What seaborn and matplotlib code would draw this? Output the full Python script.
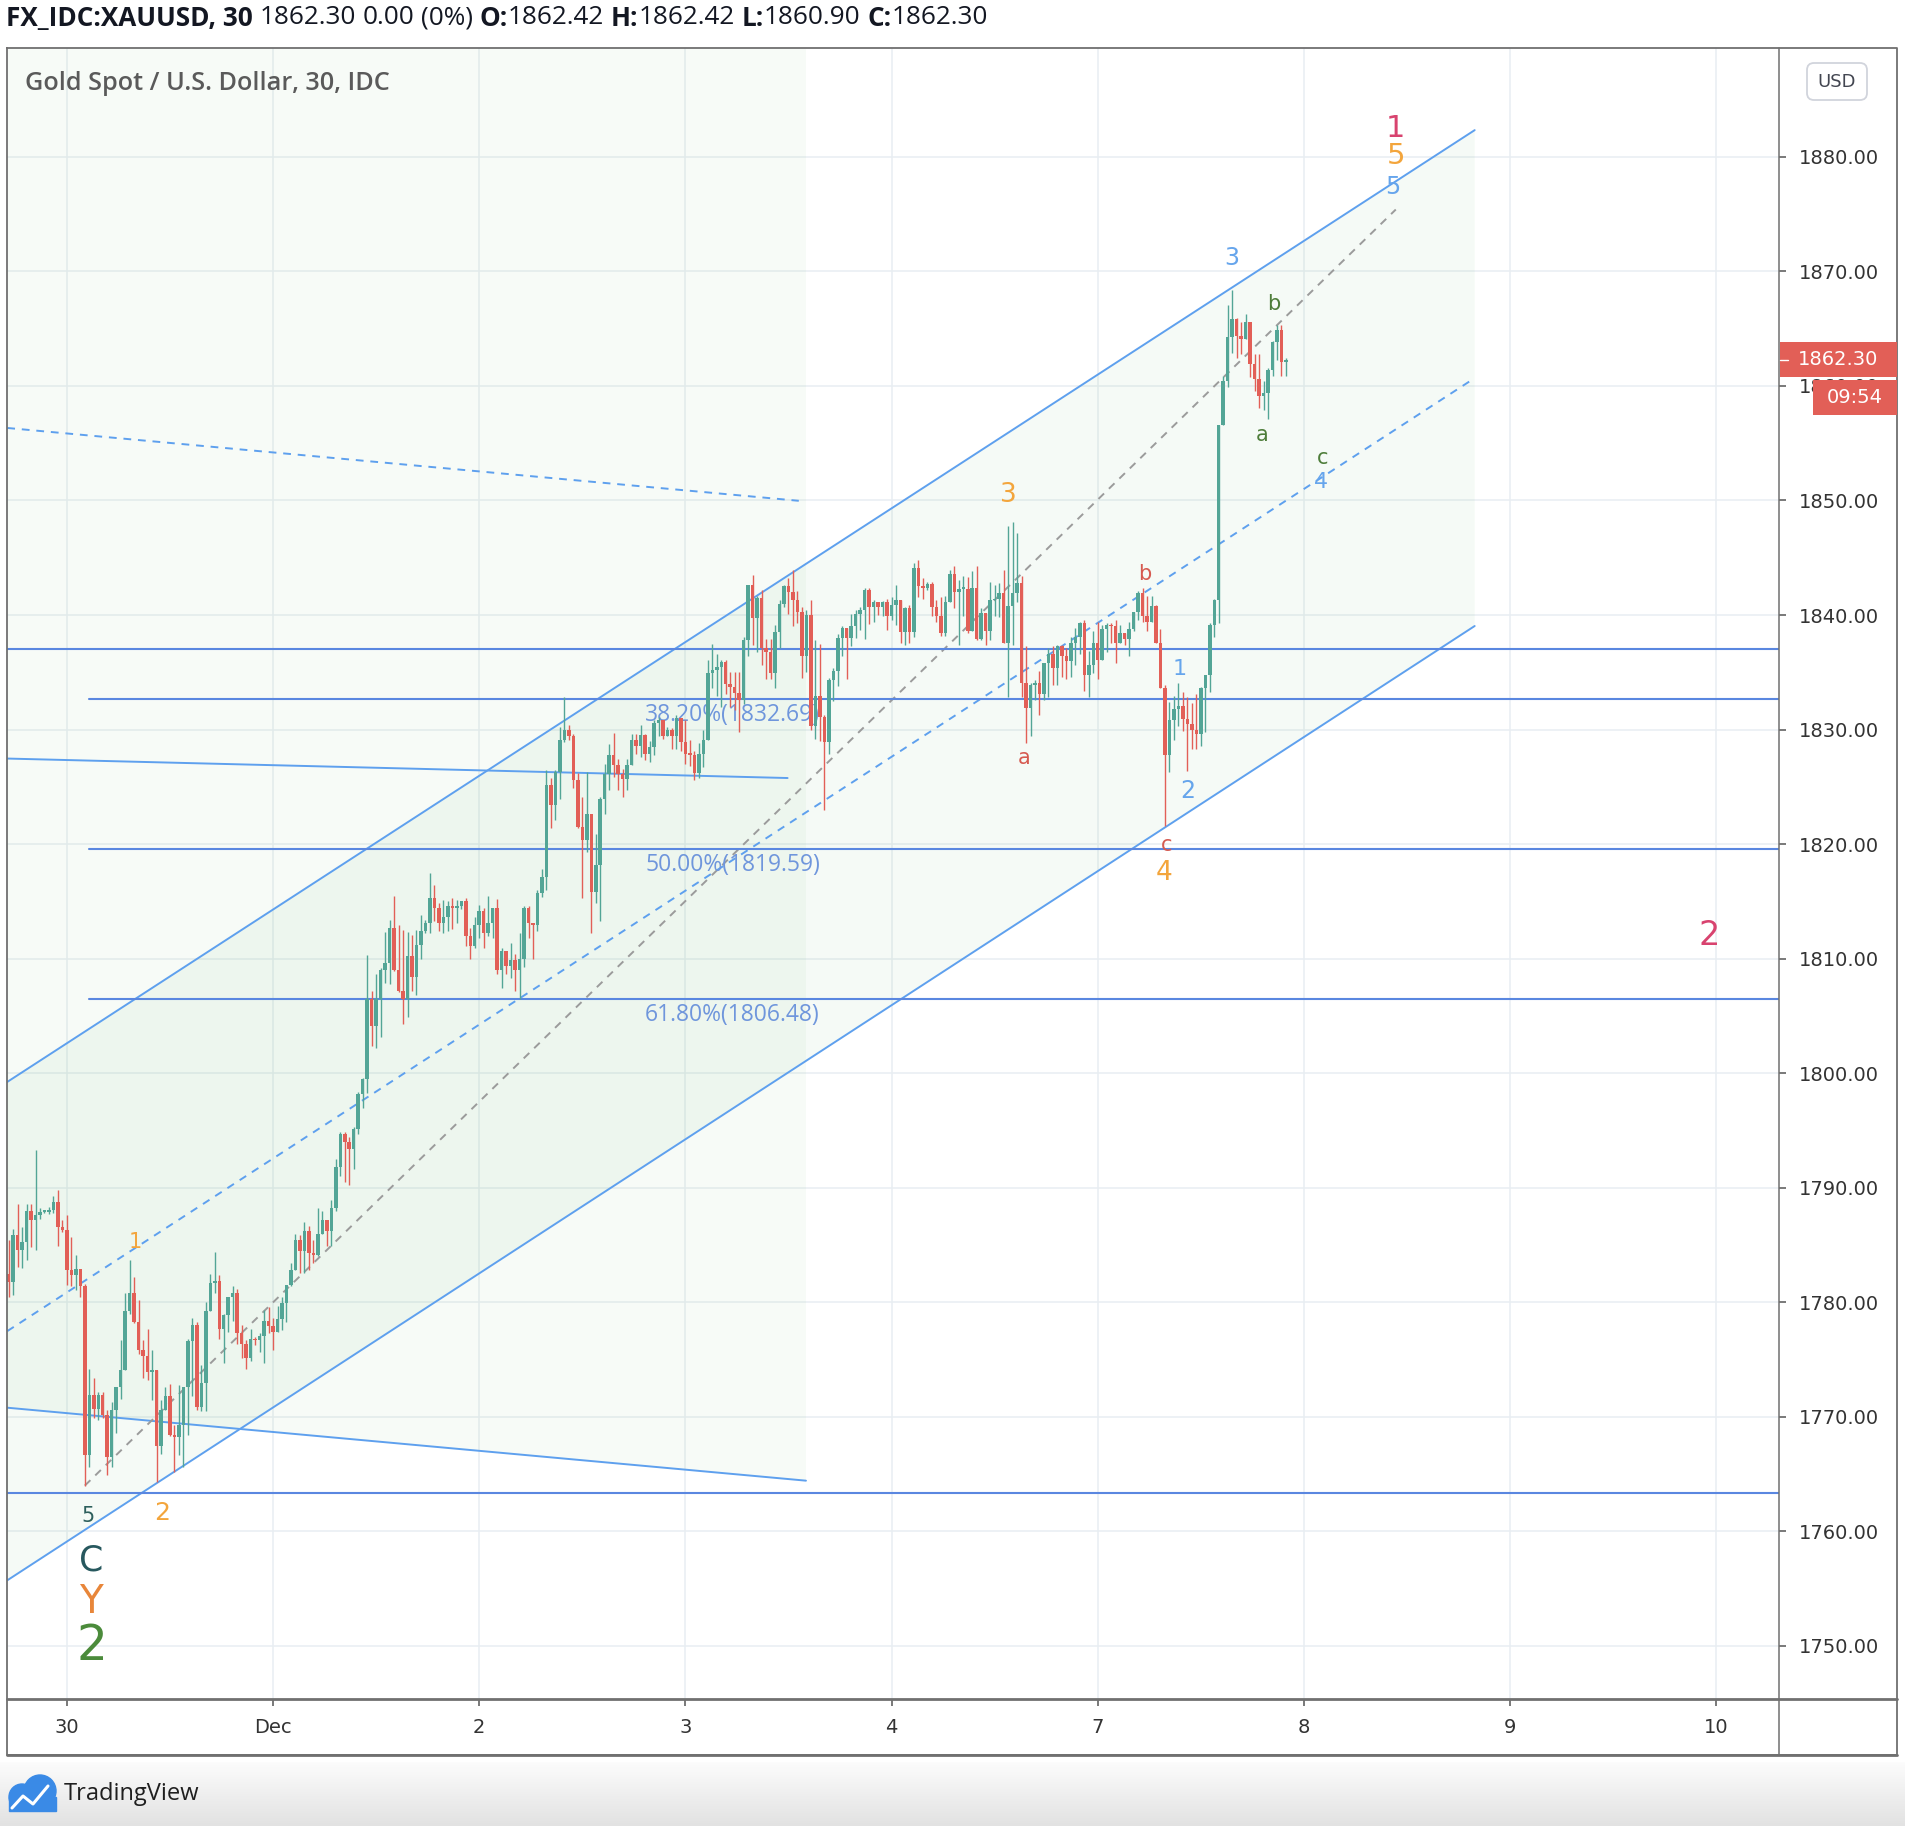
import numpy as np
import pandas as pd
import matplotlib
matplotlib.use("Agg")
import matplotlib.pyplot as plt
from matplotlib.colors import LinearSegmentedColormap
from matplotlib.patches import Circle, FancyBboxPatch, Rectangle
import seaborn as sns


FIG_W, FIG_H = 1906, 1826
DPI = 100

# 30-minute bars as (close, high, low); each bar opens at the previous close
FIRST_OPEN = 1782.5

nov27_bars = [
    (1781.8, 1785.4, 1780.5), (1785.9, 1786.4, 1780.6), (1784.6, 1788.6, 1783.1),
    (1785.3, 1786.6, 1783.0), (1788.0, 1788.6, 1783.7), (1787.2, 1788.6, 1784.8),
    (1787.6, 1793.3, 1784.6), (1787.9, 1788.2, 1787.3), (1787.9, 1788.0, 1787.8),
    (1788.1, 1788.3, 1787.7), (1788.8, 1789.3, 1787.8), (1786.6, 1789.8, 1784.9),
    (1786.3, 1787.2, 1786.1),
]

nov30_bars = [
    (1782.8, 1787.6, 1781.5), (1782.4, 1785.7, 1781.4), (1782.9, 1784.1, 1781.1),
    (1781.4, 1782.9, 1780.5), (1766.7, 1781.6, 1764.0), (1771.9, 1774.2, 1765.6),
    (1770.7, 1773.4, 1769.9), (1771.9, 1772.2, 1769.7), (1770.2, 1772.2, 1769.9),
    (1766.5, 1770.6, 1764.9), (1770.6, 1771.3, 1765.6), (1772.6, 1772.6, 1768.6),
    (1774.1, 1776.7, 1771.6), (1779.2, 1780.8, 1774.1), (1780.8, 1783.7, 1779.0),
    (1778.3, 1782.2, 1778.2), (1775.8, 1780.2, 1775.5), (1775.3, 1776.7, 1773.4),
    (1773.9, 1777.7, 1773.2), (1774.1, 1775.8, 1771.5), (1767.5, 1774.1, 1764.3),
    (1770.6, 1771.5, 1766.8), (1771.8, 1772.6, 1771.2), (1768.4, 1772.9, 1768.3),
    (1768.2, 1769.3, 1765.2), (1769.3, 1772.8, 1766.7), (1772.6, 1772.6, 1765.6),
    (1776.6, 1776.8, 1768.4), (1778.0, 1778.6, 1771.8), (1770.9, 1778.3, 1770.6),
    (1773.0, 1774.5, 1770.5), (1779.2, 1780.0, 1770.5), (1781.7, 1782.5, 1779.2),
    (1781.9, 1784.4, 1780.8), (1777.7, 1782.4, 1776.8), (1778.9, 1779.0, 1774.7),
    (1780.5, 1780.5, 1777.4), (1780.8, 1781.4, 1778.4), (1777.3, 1781.2, 1776.4),
    (1776.4, 1778.0, 1775.1), (1775.1, 1776.7, 1774.2), (1776.8, 1777.7, 1774.9),
    (1776.7, 1777.0, 1776.3), (1777.1, 1777.3, 1775.7), (1778.4, 1779.3, 1774.7),
    (1777.9, 1779.6, 1777.3),
]

dec1_bars = [
    (1777.4, 1778.6, 1775.8), (1778.5, 1779.7, 1777.6), (1779.9, 1780.5, 1777.6),
    (1781.5, 1781.5, 1778.3), (1782.8, 1783.4, 1781.4), (1785.4, 1786.0, 1782.8),
    (1784.5, 1785.9, 1782.6), (1786.2, 1787.0, 1782.6), (1784.3, 1786.7, 1782.8),
    (1784.1, 1785.4, 1783.4), (1786.0, 1788.2, 1784.0), (1787.2, 1788.0, 1786.0),
    (1786.2, 1787.2, 1784.9), (1788.2, 1788.9, 1784.9), (1791.8, 1792.5, 1788.0),
    (1794.7, 1794.9, 1791.0), (1794.0, 1794.9, 1790.5), (1793.4, 1794.4, 1790.2),
    (1795.1, 1795.3, 1791.6), (1798.2, 1798.4, 1794.7), (1799.5, 1799.6, 1797.0),
    (1806.5, 1810.3, 1798.3), (1804.1, 1807.2, 1802.4), (1806.5, 1808.7, 1802.2),
    (1809.0, 1809.2, 1803.2), (1809.6, 1812.3, 1807.9), (1812.7, 1813.4, 1807.8),
    (1809.0, 1815.5, 1808.9), (1807.2, 1812.9, 1807.1), (1806.5, 1812.5, 1804.3),
    (1810.2, 1812.3, 1804.9), (1808.4, 1812.1, 1807.2), (1811.2, 1812.5, 1806.8),
    (1812.4, 1813.8, 1810.0), (1813.1, 1813.4, 1812.2), (1815.3, 1817.5, 1812.2),
    (1814.4, 1816.4, 1813.3), (1813.1, 1814.9, 1812.4), (1813.6, 1815.1, 1812.2),
    (1814.6, 1815.0, 1812.4), (1814.4, 1815.3, 1812.6), (1814.6, 1815.1, 1813.1),
    (1815.0, 1815.0, 1814.3), (1812.0, 1815.3, 1811.1), (1811.1, 1812.7, 1810.0),
    (1812.9, 1813.6, 1810.9),
]

dec2_bars = [
    (1814.2, 1814.7, 1811.8), (1812.2, 1814.4, 1810.9), (1813.1, 1815.5, 1812.0),
    (1814.4, 1814.4, 1811.8), (1809.0, 1815.2, 1808.7), (1810.7, 1810.9, 1807.4),
    (1809.4, 1810.4, 1808.7), (1809.9, 1811.4, 1808.3), (1809.0, 1810.4, 1807.2),
    (1810.0, 1812.2, 1806.5), (1814.4, 1814.6, 1809.3), (1813.1, 1814.6, 1811.8),
    (1812.9, 1813.1, 1810.0), (1815.7, 1816.0, 1812.4), (1817.1, 1817.8, 1815.4),
    (1825.2, 1826.5, 1816.0), (1823.4, 1825.8, 1821.4), (1826.3, 1826.5, 1822.1),
    (1829.1, 1830.2, 1823.9), (1830.0, 1832.8, 1828.9), (1829.4, 1830.4, 1829.1),
    (1825.6, 1829.6, 1824.9), (1821.5, 1826.2, 1821.4), (1820.4, 1824.1, 1815.3),
    (1822.6, 1826.3, 1819.3), (1815.8, 1822.6, 1812.2), (1818.2, 1820.9, 1814.9),
    (1823.9, 1824.1, 1813.3), (1826.1, 1827.0, 1822.6), (1827.8, 1828.7, 1824.7),
    (1826.9, 1829.7, 1825.9), (1826.1, 1827.4, 1824.7), (1825.7, 1826.6, 1824.1),
    (1826.9, 1827.4, 1824.7), (1829.1, 1829.6, 1826.9), (1828.6, 1829.6, 1827.9),
    (1829.5, 1830.4, 1827.6), (1827.9, 1829.6, 1827.3), (1828.5, 1829.0, 1827.2),
    (1830.6, 1830.8, 1827.8), (1830.8, 1831.1, 1829.4), (1829.4, 1830.6, 1829.2),
    (1830.0, 1830.2, 1829.8), (1829.4, 1830.1, 1828.3), (1831.0, 1831.3, 1828.3),
    (1828.9, 1830.8, 1828.1),
]

dec3_bars = [
    (1827.9, 1830.8, 1827.0), (1827.8, 1829.1, 1826.8), (1826.2, 1828.1, 1825.6),
    (1827.9, 1828.8, 1825.8), (1829.1, 1830.0, 1826.7), (1834.9, 1836.1, 1829.1),
    (1835.2, 1837.5, 1833.6), (1835.5, 1836.6, 1832.9), (1835.9, 1836.1, 1832.0),
    (1834.0, 1836.1, 1833.1), (1833.7, 1835.0, 1832.0), (1833.2, 1835.0, 1831.7),
    (1832.6, 1835.0, 1829.8), (1837.8, 1838.1, 1832.2), (1842.6, 1842.6, 1836.4),
    (1839.7, 1843.5, 1837.4), (1841.5, 1841.7, 1836.8), (1837.1, 1842.2, 1835.6),
    (1836.8, 1837.9, 1834.4), (1834.9, 1837.9, 1834.4), (1838.5, 1839.1, 1833.6),
    (1841.0, 1841.3, 1837.1), (1842.5, 1842.6, 1840.7), (1842.0, 1843.2, 1840.1),
    (1841.3, 1843.9, 1839.0), (1840.3, 1842.1, 1839.3), (1836.4, 1840.7, 1834.5),
    (1840.0, 1840.4, 1835.0), (1830.3, 1841.3, 1830.0), (1832.9, 1837.8, 1829.2),
    (1831.1, 1837.5, 1829.0), (1828.9, 1831.3, 1823.0), (1834.3, 1834.5, 1827.9),
    (1835.1, 1835.4, 1832.5), (1838.0, 1838.3, 1833.8), (1838.9, 1839.0, 1836.4),
    (1838.0, 1838.9, 1834.4), (1839.0, 1840.1, 1837.3), (1840.1, 1840.4, 1838.0),
    (1840.4, 1840.7, 1838.7), (1842.2, 1842.4, 1837.9), (1840.7, 1842.4, 1839.2),
    (1841.1, 1841.3, 1839.4), (1840.7, 1841.0, 1840.0), (1841.1, 1841.2, 1839.9),
    (1839.9, 1841.4, 1838.7),
]

dec4_bars = [
    (1840.9, 1841.6, 1839.6), (1841.3, 1842.6, 1839.1), (1838.5, 1841.3, 1837.6),
    (1840.6, 1840.7, 1837.4), (1838.5, 1840.9, 1837.6), (1844.1, 1844.5, 1838.1),
    (1842.5, 1844.8, 1841.6), (1842.4, 1843.2, 1841.4), (1842.7, 1842.9, 1842.2),
    (1840.7, 1842.9, 1839.9), (1839.9, 1841.3, 1839.4), (1838.4, 1841.6, 1838.2),
    (1841.1, 1841.7, 1838.2), (1843.6, 1843.9, 1841.4), (1842.0, 1844.3, 1840.6),
    (1842.3, 1843.1, 1837.4), (1842.3, 1843.4, 1839.9), (1838.6, 1843.3, 1838.4),
    (1842.4, 1843.8, 1839.6), (1837.9, 1844.3, 1837.8), (1840.2, 1840.6, 1837.8),
    (1838.6, 1840.1, 1837.4), (1841.3, 1842.9, 1837.8), (1841.4, 1842.6, 1839.9),
    (1841.9, 1842.8, 1839.8), (1837.6, 1843.9, 1837.6), (1840.8, 1847.8, 1832.8),
    (1841.9, 1848.1, 1837.4), (1842.8, 1847.2, 1841.1), (1834.1, 1843.4, 1832.8),
    (1831.9, 1837.3, 1828.8), (1833.9, 1834.1, 1829.4), (1834.1, 1834.3, 1832.6),
    (1833.1, 1835.1, 1831.3), (1835.8, 1835.8, 1832.6), (1836.6, 1837.1, 1832.8),
    (1835.4, 1837.3, 1833.9), (1837.3, 1837.4, 1833.9), (1836.4, 1837.4, 1834.6),
    (1836.0, 1837.1, 1834.4), (1837.6, 1838.1, 1834.6), (1838.1, 1838.9, 1835.6),
    (1839.3, 1839.4, 1836.6), (1834.8, 1839.6, 1833.4), (1835.6, 1836.9, 1832.8),
    (1837.6, 1838.6, 1834.9),
]

dec7_bars = [
    (1836.1, 1839.4, 1834.4), (1838.8, 1839.1, 1836.3), (1839.1, 1839.3, 1836.8),
    (1839.0, 1839.3, 1837.6), (1837.6, 1839.6, 1835.8), (1838.4, 1839.1, 1837.6),
    (1837.9, 1838.1, 1837.4), (1838.8, 1839.4, 1836.4), (1840.3, 1840.3, 1838.6),
    (1841.9, 1842.1, 1839.6), (1839.9, 1842.4, 1839.4), (1839.4, 1841.7, 1838.6),
    (1840.8, 1841.7, 1839.4), (1837.6, 1840.9, 1837.6), (1833.6, 1838.8, 1833.6),
    (1827.8, 1833.9, 1821.6), (1830.8, 1832.4, 1826.3), (1831.8, 1832.9, 1829.1),
    (1832.1, 1834.1, 1830.3), (1830.9, 1833.3, 1829.9), (1830.5, 1832.8, 1826.4),
    (1830.0, 1832.3, 1828.3), (1829.6, 1833.1, 1828.3), (1833.6, 1833.7, 1828.6),
    (1834.8, 1834.8, 1829.8), (1839.1, 1839.3, 1833.3), (1841.3, 1841.4, 1838.1),
    (1856.6, 1856.6, 1839.3), (1860.4, 1860.9, 1856.6), (1864.3, 1867.1, 1859.9),
    (1865.8, 1868.4, 1862.9), (1864.4, 1865.9, 1862.4), (1864.1, 1865.6, 1862.8),
    (1865.6, 1866.3, 1864.1), (1861.9, 1865.6, 1860.8), (1860.6, 1862.8, 1859.6),
    (1859.1, 1862.8, 1858.1), (1859.4, 1860.4, 1857.9), (1861.4, 1861.6, 1857.1),
    (1863.8, 1863.9, 1860.9), (1864.9, 1865.3, 1862.3), (1862.1, 1865.3, 1860.9),
    (1862.3, 1862.4, 1860.9),
]

BARS_PER_DAY = 46
DAY_LABELS = ["30", "Dec", "2", "3", "4", "7", "8", "9", "10"]
PRICE_TICKS = list(range(1750, 1881, 10))
LAST_PRICE = 1862.30
COUNTDOWN = "09:54"

# drawings: (bar index, price)
up_channel_top = [(-13.3, 1799.24), (314.1, 1882.33)]
up_channel_bottom = [(-13.3, 1755.73), (314.1, 1839.04)]
gray_trend = [(4.0, 1764.0), (296.5, 1875.4)]
down_channel_mid = [(-13.3, 1856.33), (163.3, 1849.97)]
down_channel_bottom = [(-13.3, 1770.80), (164.9, 1764.43)]
down_trend = [(-13.3, 1827.47), (160.8, 1825.77)]
fib_start_bar = 4.9
fib_label_bar = 129.0
fib_ratios = [38.2, 50.0, 61.8]
fib_prices = [1832.69, 1819.59, 1806.48]
level_prices = [1837.02, 1763.37]

wave_text = ["1", "5", "5", "3", "b", "a", "c", "4", "3", "b", "a", "1", "2",
             "c", "4", "2", "1", "5", "2", "C", "Y", "2"]
wave_bar = [296.5, 296.5, 295.9, 260.0, 269.3, 266.7, 280.2, 279.9, 210.1, 240.6,
            213.5, 248.2, 250.0, 245.3, 244.8, 366.5, 15.3, 4.8, 21.2, 5.4, 5.3, 5.7]
wave_price = [1882.49, 1880.07, 1877.34, 1871.2, 1867.15, 1855.7, 1853.7, 1851.6,
              1850.5, 1843.6, 1827.5, 1835.3, 1824.6, 1819.95, 1817.5, 1812.05,
              1785.3, 1761.35, 1761.63, 1757.44, 1753.84, 1749.99]
wave_degree = ["primary", "inter", "minor", "minor", "minute_g", "minute_g",
               "minute_g", "minor_s", "inter_m", "minute_r", "minute_r", "minor_s",
               "minor", "minute_r", "inter_m", "primary_l", "inter_xs", "sub",
               "inter_s", "big_c", "big_y", "big_2"]

HEADER_PARTS = [
    ("FX_IDC:XAUUSD, 30", True, True), ("1862.30", False, True), ("0.00", False, True),
    ("(0%)", False, True), ("O:", True, False), ("1862.42", False, True),
    ("H:", True, False), ("1862.42", False, True), ("L:", True, False),
    ("1860.90", False, True), ("C:", True, False), ("1862.30", False, False),
]
TITLE = "Gold Spot / U.S. Dollar, 30, IDC"

# styles
TEAL = "#53a596"
RED = "#e25f57"
CHANNEL_BLUE = "#5ea0ee"
LEVEL_BLUE = "#5a87e0"
FIB_TEXT = "#6f96dc"
FILL_GREEN = "#4caf50"
GRID = "#e8eef2"
FRAME = "#707070"
WAVE_STYLES = {
    "primary": ("#d8436f", 22), "primary_l": ("#d8436f", 24),
    "inter": ("#f3a53c", 21), "inter_m": ("#f3a53c", 19),
    "inter_s": ("#f3a53c", 18), "inter_xs": ("#f3a53c", 15),
    "minor": ("#66a5ec", 17), "minor_s": ("#66a5ec", 16),
    "minute_g": ("#4e7d3a", 15), "minute_r": ("#d65a50", 15),
    "sub": ("#2d5f5c", 15), "big_c": ("#27585e", 25),
    "big_y": ("#e8863a", 28), "big_2": ("#4b8b3b", 35),
}
HEADER_FONT = ["Open Sans", "DejaVu Sans"]
HEADER_SIZE = 18.8
TITLE_SIZE = 18.2

# pixel layout of the TradingView panes
PLOT_L, PLOT_R, PLOT_T, PLOT_B = 7, 1779, 48, 1699
FRAME_R, FRAME_B = 1897, 1755
X_LIM = (-13.36, 382.0)
Y_LIM = (1745.37, 1889.5)


def build_candles() -> pd.DataFrame:
    """
    Stack the daily bar lists into one OHLC table indexed by bar number.
    """
    segments = [nov27_bars, nov30_bars, dec1_bars, dec2_bars, dec3_bars, dec4_bars, dec7_bars]
    rows = [bar for segment in segments for bar in segment]
    close = np.array([r[0] for r in rows])
    high = np.array([r[1] for r in rows])
    low = np.array([r[2] for r in rows])
    opens = np.concatenate([[FIRST_OPEN], close[:-1]])
    bars = np.arange(len(rows)) - len(nov27_bars)
    return pd.DataFrame({"bar": bars, "open": opens, "high": high, "low": low, "close": close})


def draw_candles(ax, candles: pd.DataFrame) -> None:
    up = candles["close"] >= candles["open"]
    colors = np.where(up, TEAL, RED)
    top = np.maximum.reduce([candles["high"], candles["open"], candles["close"]])
    bottom = np.minimum.reduce([candles["low"], candles["open"], candles["close"]])
    ax.vlines(candles["bar"], bottom, top, colors=colors, linewidth=1.0, zorder=4)
    body = (candles["close"] - candles["open"]).abs().clip(lower=0.12)
    ax.bar(candles["bar"], body, bottom=np.minimum(candles["open"], candles["close"]),
           width=0.78, color=colors, linewidth=0, zorder=5)


def draw_drawings(ax) -> None:
    x0, x1 = up_channel_top[0][0], up_channel_top[1][0]
    ax.fill([x0, x1, x1, x0],
            [up_channel_top[0][1], up_channel_top[1][1], up_channel_bottom[1][1], up_channel_bottom[0][1]],
            color=FILL_GREEN, alpha=0.05, linewidth=0, zorder=1)
    mid = [(a[1] + b[1]) / 2 for a, b in zip(up_channel_top, up_channel_bottom)]
    for line in (up_channel_top, up_channel_bottom):
        ax.plot([p[0] for p in line], [p[1] for p in line], color=CHANNEL_BLUE, lw=1.4, zorder=3)
    ax.plot([x0, x1], mid, color=CHANNEL_BLUE, lw=1.4, dashes=(4, 3.5), zorder=3)

    # descending channel, upper edge lies above the visible range
    d0, d1 = down_channel_bottom[0][0], down_channel_bottom[1][0]
    upper = [m[1] + (m[1] - b[1]) for m, b in zip(down_channel_mid, down_channel_bottom)]
    ax.fill([d0, d1, d1, d0],
            [down_channel_bottom[0][1], down_channel_bottom[1][1], upper[1], upper[0]],
            color=FILL_GREEN, alpha=0.045, linewidth=0, zorder=1)
    ax.plot([p[0] for p in down_channel_bottom], [p[1] for p in down_channel_bottom],
            color=CHANNEL_BLUE, lw=1.4, zorder=3)
    ax.plot([p[0] for p in down_channel_mid], [p[1] for p in down_channel_mid],
            color=CHANNEL_BLUE, lw=1.4, dashes=(4, 3.5), zorder=3)
    ax.plot([p[0] for p in down_trend], [p[1] for p in down_trend],
            color=CHANNEL_BLUE, lw=1.4, zorder=3)

    ax.plot([p[0] for p in gray_trend], [p[1] for p in gray_trend],
            color="#9b9b9b", lw=1.4, dashes=(4, 3.5), zorder=3)

    for price in level_prices:
        ax.plot([X_LIM[0], X_LIM[1]], [price, price], color=LEVEL_BLUE, lw=1.5, zorder=3)
    for ratio, price in zip(fib_ratios, fib_prices):
        ax.plot([fib_start_bar, X_LIM[1]], [price, price], color=LEVEL_BLUE, lw=1.5, zorder=3)
        ax.text(fib_label_bar, price - 1.4, f"{ratio:.2f}%({price:.2f})", color=FIB_TEXT,
                fontsize=16.5, family=HEADER_FONT, ha="left", va="center", zorder=3.5)


def draw_wave_labels(ax) -> None:
    for text, bar, price, degree in zip(wave_text, wave_bar, wave_price, wave_degree):
        color, size = WAVE_STYLES[degree]
        ax.text(bar, price, text, color=color, fontsize=size, ha="center", va="center", zorder=6)


def draw_overlay(fig, ov) -> None:
    renderer = fig.canvas.get_renderer()

    # header line with mixed weights
    probe = ov.text(0, 0, "0 0", fontsize=HEADER_SIZE, family=HEADER_FONT)
    probe2 = ov.text(0, 0, "00", fontsize=HEADER_SIZE, family=HEADER_FONT)
    space = probe.get_window_extent(renderer).width - probe2.get_window_extent(renderer).width
    probe.remove()
    probe2.remove()

    x = 6
    for text, bold, gap in HEADER_PARTS:
        t = ov.text(x, 18, text, fontsize=HEADER_SIZE, family=HEADER_FONT, color="#131722",
                    fontweight="bold" if bold else "normal", ha="left", va="center")
        x += t.get_window_extent(renderer).width
        if gap:
            x += space

    ov.text(25, 83, TITLE, fontsize=TITLE_SIZE, family=HEADER_FONT, fontweight="semibold",
            color="#5a5a5a", ha="left", va="center", zorder=10)

    # frame and pane separators
    ov.plot([PLOT_L, FRAME_R, FRAME_R, PLOT_L, PLOT_L], [PLOT_T, PLOT_T, FRAME_B, FRAME_B, PLOT_T],
            color=FRAME, lw=1.3, zorder=9)
    ov.plot([PLOT_R, PLOT_R], [PLOT_T, FRAME_B], color=FRAME, lw=1.1, zorder=9)
    ov.plot([PLOT_L, FRAME_R], [PLOT_B, PLOT_B], color=FRAME, lw=2.0, zorder=9)
    ov.plot([PLOT_L, FRAME_R], [FRAME_B, FRAME_B], color=FRAME, lw=2.0, zorder=9)

    # currency badge
    ov.add_patch(FancyBboxPatch((1807, 63), 60, 37, boxstyle="round,pad=0,rounding_size=7",
                                facecolor="white", edgecolor="#d1d4dc", lw=1.3, zorder=10))
    ov.text(1837, 82, "USD", fontsize=13, color="#434651", ha="center", va="center", zorder=11)

    # last price and countdown tags
    y_last = PLOT_T + (Y_LIM[1] - LAST_PRICE) / (Y_LIM[1] - Y_LIM[0]) * (PLOT_B - PLOT_T)
    ov.add_patch(Rectangle((PLOT_R + 1, y_last - 17.5), FRAME_R - PLOT_R - 1, 35,
                           facecolor=RED, edgecolor="none", zorder=10))
    ov.plot([PLOT_R + 1, PLOT_R + 9], [y_last, y_last], color="white", lw=1.0, zorder=11)
    ov.text(1838, y_last, f"{LAST_PRICE:.2f}", fontsize=14, color="white",
            ha="center", va="center", zorder=11)
    ov.add_patch(Rectangle((1813, y_last + 20.5), FRAME_R - 1813, 35,
                           facecolor=RED, edgecolor="none", zorder=10))
    ov.text(1855, y_last + 38, COUNTDOWN, fontsize=14, color="white",
            ha="center", va="center", zorder=11)

    # footer
    cmap = LinearSegmentedColormap.from_list("footer", ["#fcfcfc", "#e2e2e2"])
    ov.imshow(np.linspace(0, 1, 64).reshape(-1, 1), extent=(0, FIG_W, FIG_H, 1762),
              cmap=cmap, aspect="auto", zorder=0)
    logo = "#3a8ae6"
    ov.add_patch(Circle((22, 1797), 13, color=logo, zorder=2))
    ov.add_patch(Circle((40, 1791), 16, color=logo, zorder=2))
    ov.add_patch(Rectangle((9, 1797), 47, 14, color=logo, zorder=2))
    ov.plot([12, 23, 33, 48], [1808, 1796, 1804, 1786], color="white", lw=2.2, zorder=3)
    ov.text(64, 1794, "TradingView", fontsize=17, family=HEADER_FONT, color="#1f1f1f",
            ha="left", va="center", zorder=3)

    ov.set_xlim(0, FIG_W)
    ov.set_ylim(FIG_H, 0)


if __name__ == "__main__":
    sns.set_theme(style="white")
    plt.rcParams["font.family"] = ["DejaVu Sans"]

    candles = build_candles()

    fig = plt.figure(figsize=(FIG_W / DPI, FIG_H / DPI), dpi=DPI, facecolor="white")
    ax = fig.add_axes([PLOT_L / FIG_W, 1 - PLOT_B / FIG_H,
                       (PLOT_R - PLOT_L) / FIG_W, (PLOT_B - PLOT_T) / FIG_H])
    ax.set_facecolor("white")
    ax.set_xlim(*X_LIM)
    ax.set_ylim(*Y_LIM)

    day_ticks = [k * BARS_PER_DAY for k in range(len(DAY_LABELS))]
    ax.set_xticks(day_ticks)
    ax.set_xticklabels(DAY_LABELS)
    ax.set_yticks(PRICE_TICKS)
    ax.set_yticklabels([f"{p:.2f}" for p in PRICE_TICKS])
    ax.yaxis.tick_right()
    ax.tick_params(axis="x", bottom=True, length=5, width=1.1, color="#555555",
                   labelsize=14, labelcolor="#333333", pad=9)
    ax.tick_params(axis="y", right=True, left=False, length=5, width=1.1, color="#555555",
                   labelsize=14, labelcolor="#333333", pad=9)
    for spine in ax.spines.values():
        spine.set_visible(False)
    ax.grid(True, color=GRID, linewidth=1.1)
    ax.set_axisbelow(True)

    draw_drawings(ax)
    draw_candles(ax, candles)
    draw_wave_labels(ax)

    ov = fig.add_axes([0, 0, 1, 1])
    ov.axis("off")
    ov.patch.set_alpha(0)
    draw_overlay(fig, ov)

    fig.savefig("out.png", dpi=DPI, facecolor="white")
    plt.close(fig)
